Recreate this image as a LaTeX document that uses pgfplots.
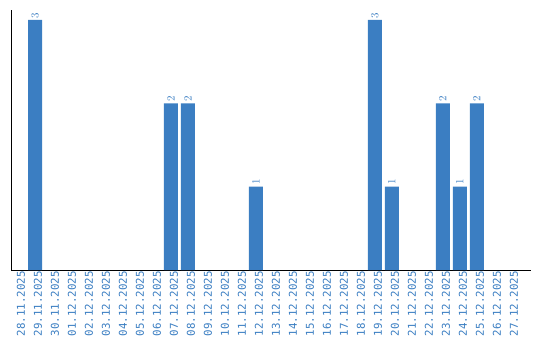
\documentclass[border=0pt]{standalone}
\usepackage{pgfplots}
\pgfplotsset{compat=1.18}
\usepackage{fontspec}
\setmainfont{DejaVu Sans}
\newfontfamily\monofont{DejaVu Sans Mono}
\definecolor{barblue}{RGB}{59,126,194}
\begin{document}
\begin{tikzpicture}
\useasboundingbox (0,0) rectangle (540pt,340pt);
\begin{axis}[
  at={(11pt,70pt)}, anchor=south west,
  scale only axis, width=520pt, height=260pt,
  xmin=-0.412, xmax=30.18, ymin=0, ymax=3.12,
  axis x line=bottom, axis y line=left,
  axis line style={black, line width=1pt, -},
  x axis line style={-}, y axis line style={-},
  ytick=\empty,
  xtick={0,...,29},
  xticklabels={28.11.2025,29.11.2025,30.11.2025,01.12.2025,02.12.2025,03.12.2025,04.12.2025,05.12.2025,06.12.2025,07.12.2025,08.12.2025,09.12.2025,10.12.2025,11.12.2025,12.12.2025,13.12.2025,14.12.2025,15.12.2025,16.12.2025,17.12.2025,18.12.2025,19.12.2025,20.12.2025,21.12.2025,22.12.2025,23.12.2025,24.12.2025,25.12.2025,26.12.2025,27.12.2025},
  major tick length=0pt,
  xticklabel style={rotate=90, anchor=east, font=\monofont\fontsize{10.8}{12}\selectfont, text=barblue, inner sep=1pt, xshift=0pt, yshift=-3pt},
  clip=false,
  nodes near coords,
  every node near coord/.append style={rotate=90, anchor=west, font=\monofont\fontsize{10.5}{12}\selectfont, text=barblue, inner sep=1.5pt},
]
\addplot[ybar, bar width=14pt, fill=barblue, draw=none] coordinates {
  (1,3) (9,2) (10,2) (14,1) (21,3) (22,1) (25,2) (26,1) (27,2)
};
\end{axis}
\end{tikzpicture}
\end{document}
